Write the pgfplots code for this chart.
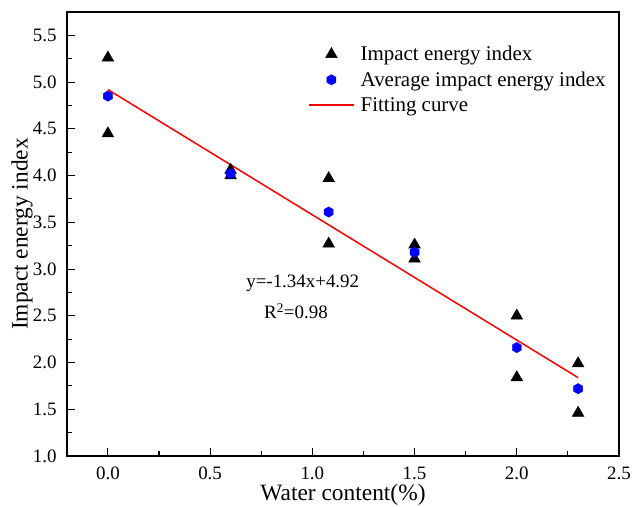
\documentclass[border=0pt]{standalone}
\usepackage{fontspec}
\setmainfont{Liberation Serif}
\usepackage{pgfplots}
\pgfplotsset{compat=1.18}

% filled hexagon mark, pointy side up
\pgfdeclareplotmark{hexagon*}{%
  \pgfpathmoveto{\pgfpointpolar{90}{\pgfplotmarksize}}%
  \pgfpathlineto{\pgfpointpolar{150}{\pgfplotmarksize}}%
  \pgfpathlineto{\pgfpointpolar{210}{\pgfplotmarksize}}%
  \pgfpathlineto{\pgfpointpolar{270}{\pgfplotmarksize}}%
  \pgfpathlineto{\pgfpointpolar{330}{\pgfplotmarksize}}%
  \pgfpathlineto{\pgfpointpolar{30}{\pgfplotmarksize}}%
  \pgfpathclose
  \pgfusepathqfillstroke}

\begin{document}
\begin{tikzpicture}
\path[use as bounding box] (-67bp,-51bp) rectangle (565bp,456bp);
\begin{axis}[
  scale only axis,
  width=552bp, height=444bp,
  xmin=-0.2, xmax=2.5,
  ymin=1.0, ymax=5.75,
  xtick={0,0.5,...,2.5},
  ytick={1.0,1.5,...,5.5},
  minor x tick num=1,
  minor y tick num=1,
  tick align=inside,
  xtick pos=bottom, ytick pos=left,
  major tick length=8bp,
  minor tick length=5bp,
  axis line style={line width=1.3bp},
  every tick/.style={line width=1.1bp, black},
  /pgf/number format/assume math mode=true,
  /pgf/number format/.cd, fixed, fixed zerofill, precision=1,
  /pgfplots/.cd,
  tick label style={font=\fontsize{19}{22}\selectfont},
  xticklabel style={yshift=-7bp},
  yticklabel style={xshift=-7bp},
  xlabel={Water content(\%)},
  ylabel={Impact energy index},
  label style={font=\fontsize{23.5}{27}\selectfont},
  xlabel style={at={(axis description cs:0.5,0)}, anchor=center, yshift=-39bp},
  ylabel style={at={(axis description cs:0,0.5)}, anchor=center, yshift=45bp},
  legend image code/.code={%
    \draw[mark repeat=2,mark phase=2,#1] plot coordinates {(0bp,0bp)(22.5bp,0bp)(45bp,0bp)};},
  legend style={draw=none, fill=none,
    at={(0.431,0.93)}, anchor=north west,
    font=\fontsize{21}{24}\selectfont,
    row sep=7.5bp,
    nodes={inner xsep=6bp, inner ysep=1bp}},
  legend cell align=left,
]
\addplot[only marks, mark=triangle*, mark size=6.8bp, black] coordinates {
  (0,5.26) (0,4.45)
  (0.6,4.06) (0.6,4.00)
  (1.08,3.97) (1.08,3.27)
  (1.5,3.26) (1.5,3.11)
  (2.0,2.50) (2.0,1.84)
  (2.3,1.99) (2.3,1.46)
};
\addlegendentry{Impact energy index}
\addplot[only marks, mark=hexagon*, mark size=5.2bp, draw=blue, fill=blue] coordinates {
  (0,4.85) (0.6,4.02) (1.08,3.61) (1.5,3.18) (2.0,2.16) (2.3,1.72)
};
\addlegendentry{Average impact energy index}
\addplot[draw=red, line width=1.5bp, no marks, forget plot] coordinates {
  (0,4.92) (2.3,1.838)
};
\addlegendimage{legend image code/.code={\draw[draw=red, line width=1.6bp] (0bp,0bp) -- (45bp,0bp);}}
\addlegendentry{Fitting curve}
\node[font=\fontsize{19}{22}\selectfont] at (axis cs:0.953,2.85) {y=-1.34x+4.92};
\node[font=\fontsize{19}{22}\selectfont] at (axis cs:0.92,2.55) {R\textsuperscript{2}=0.98};
\end{axis}
\end{tikzpicture}
\end{document}
